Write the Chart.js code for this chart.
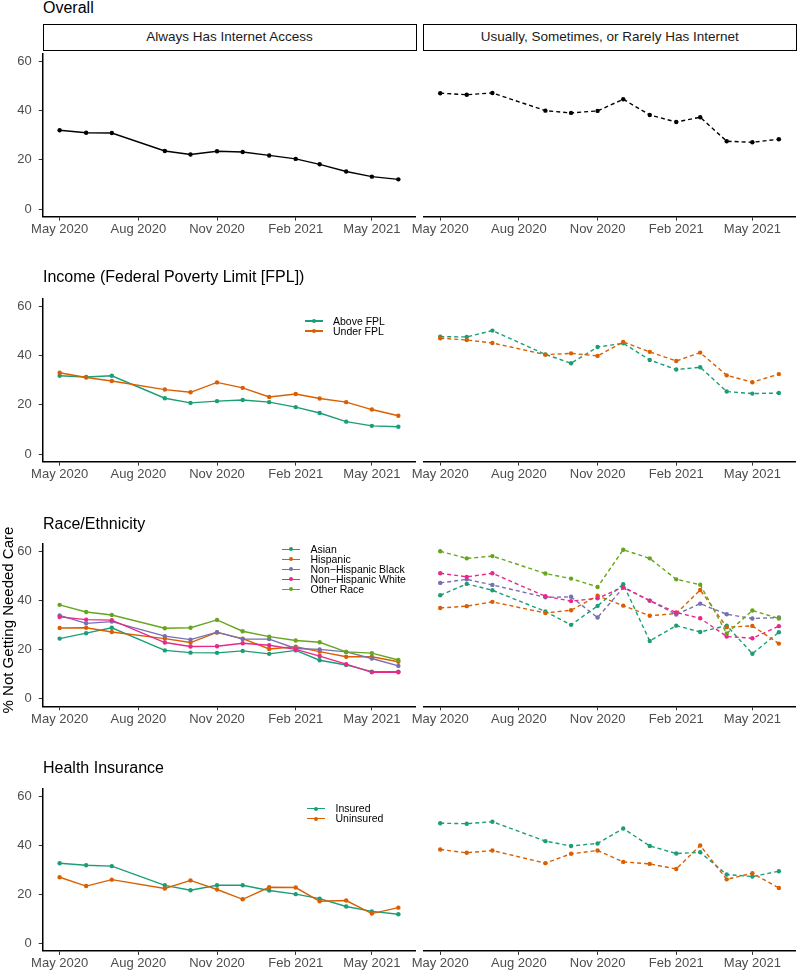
<!DOCTYPE html>
<html><head><meta charset="utf-8">
<script src="https://cdn.jsdelivr.net/npm/chart.js@4.4.1/dist/chart.umd.min.js"></script>
<style>
body{margin:0;background:#fff;}
#wrap{position:relative;width:798px;height:972px;overflow:hidden;font-family:"Liberation Sans",Arial,sans-serif;background:#fff;}
canvas{position:absolute;}
.title{position:absolute;left:43px;font-size:16px;line-height:16px;color:#000;white-space:nowrap;}
.strip{position:absolute;box-sizing:border-box;border:1.5px solid #000;background:#fff;font-size:13.5px;color:#1a1a1a;text-align:center;line-height:23px;white-space:nowrap;}
.leg{position:absolute;font-size:10.5px;line-height:10px;color:#000;white-space:nowrap;}
.sw{position:absolute;height:1.5px;}
.dot{position:absolute;width:4px;height:4px;border-radius:50%;}
#ylab{position:absolute;width:320px;text-align:center;font-size:15px;line-height:16px;color:#000;white-space:nowrap;transform:rotate(-90deg);}
</style></head>
<body><div id="wrap"></div>
<script>
// ---------- data ----------
const months = ["2020-05","2020-06","2020-07","2020-09","2020-10","2020-11","2020-12","2021-01","2021-02","2021-03","2021-04","2021-05","2021-06"];
const tickMonths = ["2020-05","2020-08","2020-11","2021-02","2021-05"];
const tickLabels = ["May 2020","Aug 2020","Nov 2020","Feb 2021","May 2021"];
const yTicks = [0,20,40,60];
const facetLabels = ["Always Has Internet Access","Usually, Sometimes, or Rarely Has Internet"];
const rowTitles = ["Overall","Income (Federal Poverty Limit [FPL])","Race/Ethnicity","Health Insurance"];
const yTitle = "% Not Getting Needed Care";

const overallAlways = [32.0,31.0,30.9,23.6,22.2,23.5,23.2,21.8,20.4,18.2,15.3,13.2,12.1];
const overallOther  = [45.8,45.2,45.9,38.9,38.0,38.8,43.4,37.2,34.4,36.3,26.8,26.4,27.6];

const incomeGroups = ["Above FPL","Under FPL"];
const aboveFplAlways = [31.8,31.3,31.8,22.7,20.8,21.5,22.0,21.1,19.1,16.7,13.2,11.5,11.1];
const underFplAlways = [33.0,31.1,29.7,26.2,25.1,29.1,26.9,23.2,24.4,22.6,21.1,18.1,15.6];
const aboveFplOther  = [46.4,46.3,48.8,39.4,35.9,42.3,43.8,37.2,33.4,34.3,24.7,23.9,24.1];
const underFplOther  = [45.8,45.1,43.9,39.3,39.8,38.8,44.3,40.4,36.8,40.1,31.1,28.4,31.6];

const raceGroups = ["Asian","Hispanic","Non\u2212Hispanic Black","Non\u2212Hispanic White","Other Race"];
const asianAlways = [24.5,26.7,28.9,19.7,18.8,18.7,19.5,18.3,19.7,15.7,13.8,11.1,11.1];
const hispAlways  = [28.8,28.9,27.2,24.5,22.9,27.0,24.5,20.3,21.2,19.2,17.1,17.1,15.1];
const blackAlways = [33.9,30.7,31.4,25.5,24.1,27.1,24.3,24.3,20.5,20.1,19.1,16.4,13.4];
const whiteAlways = [33.3,32.2,32.0,22.9,21.3,21.4,22.6,21.8,20.1,17.4,14.1,10.8,10.8];
const otherAlways = [38.2,35.3,34.1,28.7,28.9,32.1,27.5,25.3,23.7,23.0,19.1,18.6,15.8];
const asianOther = [40.9,45.4,42.9,34.5,29.2,36.7,45.3,22.8,28.9,26.4,28.9,17.8,26.3];
const hispOther  = [35.9,36.6,38.3,33.9,35.0,40.7,36.8,32.8,33.7,43.0,28.3,28.8,21.8];
const blackOther = [45.8,47.2,45.0,40.1,40.3,32.1,43.9,38.8,33.3,37.6,33.4,31.7,32.1];
const whiteOther = [49.6,48.2,49.6,40.5,38.6,39.7,44.2,38.8,34.1,31.8,24.6,23.9,28.7];
const otherOther = [58.3,55.5,56.4,49.5,47.5,44.2,58.9,55.5,47.2,45.1,25.8,34.9,31.7];

const insGroups = ["Insured","Uninsured"];
const insuredAlways   = [32.7,31.9,31.5,23.7,21.7,23.7,23.7,21.6,20.1,18.3,15.1,13.1,11.9];
const uninsuredAlways = [27.0,23.4,26.0,22.4,25.7,22.0,18.0,22.9,22.8,17.2,17.5,12.2,14.6];
const insuredOther    = [47.5,47.3,48.1,40.4,38.5,39.5,45.4,38.5,35.5,36.0,27.2,26.4,28.5];
const uninsuredOther  = [37.1,35.8,36.7,31.7,35.4,36.7,32.2,31.4,29.4,38.7,25.3,27.7,21.9];

// ---------- helpers ----------
const C = {teal:"#1B9E77",orange:"#D95F02",purple:"#7570B3",pink:"#E7298A",green:"#66A61E",black:"#000000"};
const base = Date.UTC(2020,4,1);
function dayOf(m){const [y,mo]=m.split("-").map(Number);return (Date.UTC(y,mo-1,1)-base)/86400000;}
const xs = months.map(dayOf);
const xTickVals = tickMonths.map(dayOf);
const xSpan = xs[xs.length-1]-xs[0];
const xMin = xs[0]-0.05*xSpan, xMax = xs[xs.length-1]+0.05*xSpan;

Chart.defaults.font.family = '"Liberation Sans", Arial, sans-serif';

const wrap = document.getElementById('wrap');
const rows = [
  {top:49.7,bottom:216.6},
  {top:294.7,bottom:461.6},
  {top:539.4,bottom:706.3},
  {top:784.0,bottom:950.9}
];
const cols = [{left:42.7,right:415.3},{left:423.3,right:795.9}];

function ds(label, vals, color, dashed){
  return {label, data: vals.map((v,i)=>({x:xs[i],y:v})), borderColor:color, backgroundColor:color,
    borderWidth:1.4, borderDash: dashed?[4,3]:[], pointRadius:2.2, pointHoverRadius:2.2,
    pointBackgroundColor:color, pointBorderWidth:0, tension:0, fill:false};
}

function panel(r, c, datasets){
  const rect = rows[r], col = cols[c];
  const isLeft = c===0;
  const cTop = Math.floor(rect.top-10);
  const cH = Math.ceil(rect.bottom+26)-cTop;
  const cLeft = isLeft?0:400;
  const cW = isLeft?420:398;
  const cv = document.createElement('canvas');
  cv.width=cW; cv.height=cH;
  cv.style.left=cLeft+'px'; cv.style.top=cTop+'px';
  cv.style.width=cW+'px'; cv.style.height=cH+'px';
  wrap.appendChild(cv);
  const padTop = rect.top-cTop;
  const axisH = cTop+cH-rect.bottom;
  datasets.forEach((d,i)=>{d.order=-i;});
  new Chart(cv,{
    type:'line',
    data:{datasets},
    options:{
      responsive:false, animation:false, events:[],
      layout:{padding:{top:padTop,bottom:0,left:isLeft?0:col.left-cLeft,right:cLeft+cW-col.right}},
      plugins:{legend:{display:false},tooltip:{enabled:false}},
      scales:{
        x:{type:'linear',min:xMin,max:xMax,
          afterFit:s=>{s.height=axisH;},
          afterBuildTicks:s=>{s.ticks=xTickVals.map(v=>({value:v}));},
          ticks:{autoSkip:false,maxRotation:0,padding:1,color:'#4D4D4D',font:{size:13},
            callback:(v)=>{const k=xTickVals.indexOf(v);return k>=0?tickLabels[k]:'';}},
          grid:{drawOnChartArea:false,drawTicks:true,tickLength:4,tickColor:'#333',tickWidth:1},
          border:{display:true,color:'#000',width:1.5}
        },
        y:{type:'linear',min:-3,max:63,display:isLeft,
          afterFit:s=>{s.width=isLeft?(col.left-cLeft):0;},
          afterBuildTicks:s=>{s.ticks=yTicks.map(v=>({value:v}));},
          ticks:{padding:7,color:'#4D4D4D',font:{size:13},callback:v=>String(v)},
          grid:{drawOnChartArea:false,drawTicks:true,tickLength:4,tickColor:'#333',tickWidth:1},
          border:{display:true,color:'#000',width:1.5}
        }
      }
    }
  });
}

// Row 1: Overall
panel(0,0,[ds("Overall",overallAlways,C.black,false)]);
panel(0,1,[ds("Overall",overallOther,C.black,true)]);
// Row 2: Income
panel(1,0,[ds(incomeGroups[0],aboveFplAlways,C.teal,false),ds(incomeGroups[1],underFplAlways,C.orange,false)]);
panel(1,1,[ds(incomeGroups[0],aboveFplOther,C.teal,true),ds(incomeGroups[1],underFplOther,C.orange,true)]);
// Row 3: Race
const raceColors=[C.teal,C.orange,C.purple,C.pink,C.green];
const raceAlways=[asianAlways,hispAlways,blackAlways,whiteAlways,otherAlways];
const raceOther=[asianOther,hispOther,blackOther,whiteOther,otherOther];
panel(2,0,raceGroups.map((g,i)=>ds(g,raceAlways[i],raceColors[i],false)));
panel(2,1,raceGroups.map((g,i)=>ds(g,raceOther[i],raceColors[i],true)));
// Row 4: Insurance
panel(3,0,[ds(insGroups[0],insuredAlways,C.teal,false),ds(insGroups[1],uninsuredAlways,C.orange,false)]);
panel(3,1,[ds(insGroups[0],insuredOther,C.teal,true),ds(insGroups[1],uninsuredOther,C.orange,true)]);

// ---------- text ----------
function addDiv(cls, txt, styles){const d=document.createElement('div');d.className=cls;d.textContent=txt;Object.assign(d.style,styles);wrap.appendChild(d);return d;}
const titleTops=[0,268.5,516,760];
rowTitles.forEach((t,i)=>addDiv('title',t,{top:titleTops[i]+'px'}));
addDiv('strip',facetLabels[0],{left:'42.5px',top:'24px',width:'374px',height:'26.5px'});
addDiv('strip',facetLabels[1],{left:'423px',top:'24px',width:'373.5px',height:'26.5px'});
const yl=addDiv('',yTitle,{});
yl.id='ylab';
yl.style.left=(8-160)+'px'; yl.style.top=(620-8)+'px';

function legend(swLeft, textLeft, yFirst, labels, colors){
  labels.forEach((l,i)=>{
    const y=yFirst+i*10;
    addDiv('sw','',{left:swLeft+'px',top:(y-0.75)+'px',width:'18px',background:colors[i]});
    addDiv('dot','',{left:(swLeft+7)+'px',top:(y-2)+'px',background:colors[i]});
    addDiv('leg',l,{left:textLeft+'px',top:(y-5.5)+'px'});
  });
}
legend(304.5,333,321,incomeGroups,[C.teal,C.orange]);
legend(282,310.5,549.3,raceGroups,raceColors);
legend(306.5,335.5,808.7,insGroups,[C.teal,C.orange]);
</script></body></html>
